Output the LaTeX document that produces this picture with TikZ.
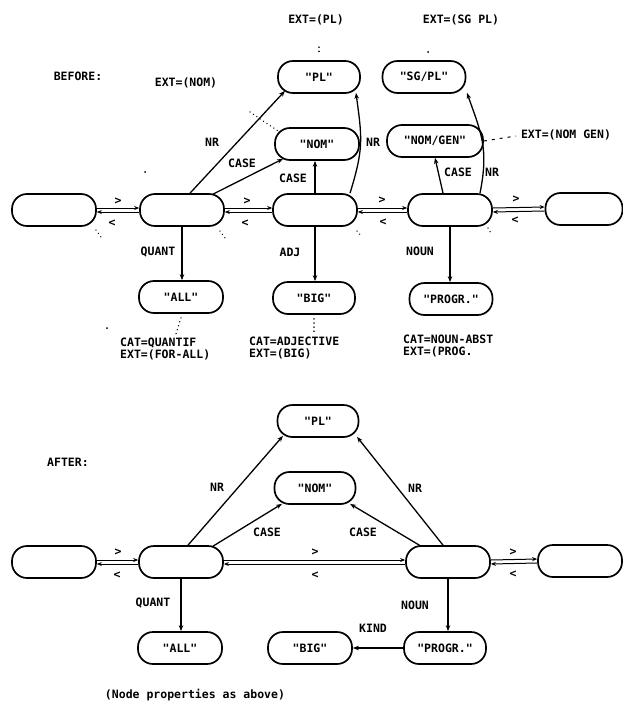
\documentclass[tikz,border=0pt]{standalone}
\usepackage{fontspec}
\newfontfamily\pf{DejaVu Sans Mono}
\usetikzlibrary{arrows.meta,calc}
\begin{document}
\begin{tikzpicture}[x=1pt,y=-1pt,
  nd/.style={draw, line width=1.7pt, rounded corners=15pt, minimum width=84pt, minimum height=32pt, inner sep=0pt, font=\pf\bfseries\fontsize{11.5}{12}\selectfont},
  lbl/.style={font=\pf\bfseries\fontsize{11.5}{12}\selectfont, inner sep=0pt},
  arr/.style={line width=1.3pt, -{Stealth[length=6pt,width=4.5pt]}},
  dl/.style={line width=1pt, -{Stealth[length=5pt,width=4pt]}},
  dotl/.style={line width=1.4pt, dash pattern=on 0.1pt off 4pt, line cap=round},
  dashl/.style={line width=1pt, dash pattern=on 3pt off 5pt}]
\useasboundingbox (0,0) rectangle (623,709);

% ---------------- BEFORE ----------------
\node[lbl] (before) at (78,76) {BEFORE:};
\node[lbl] (extnom) at (186,83) {EXT=(NOM)};
\node[lbl] (extpl) at (316,20) {EXT=(PL)};
\node[lbl] (extsgpl) at (461,20) {EXT=(SG PL)};
\node[lbl] (extnomgen) at (566,135) {EXT=(NOM GEN)};

\node[nd] (A) at (54,210) {};
\node[nd] (B) at (182,210) {};
\node[nd] (C) at (315,210) {};
\node[nd] (D) at (450,210) {};
\node[nd, minimum width=77pt] (E) at (584,209) {};

\node[nd, minimum width=82pt] (PL) at (319,77) {"PL"};
\node[nd, minimum width=83pt] (SGPL) at (424,77) {"SG/PL"};
\node[nd] (NOM) at (317,144) {"NOM"};
\node[nd, minimum width=96pt] (NOMGEN) at (435,141) {"NOM/GEN"};
\node[nd] (ALL) at (181,297) {"ALL"};
\node[nd, minimum width=82pt] (BIG) at (314,298) {"BIG"};
\node[nd, minimum width=83pt] (PROGR) at (451,299) {"PROGR."};

% row connectors
\draw[dl] ([yshift=2pt]A.east) -- ([yshift=2pt]B.west);
\draw[dl] ([yshift=-2pt]B.west) -- ([yshift=-2pt]A.east);
\draw[dl] ([yshift=2pt]B.east) -- ([yshift=2pt]C.west);
\draw[dl] ([yshift=-2pt]C.west) -- ([yshift=-2pt]B.east);
\draw[dl] ([yshift=2pt]C.east) -- ([yshift=2pt]D.west);
\draw[dl] ([yshift=-2pt]D.west) -- ([yshift=-2pt]C.east);
\draw[dl] ([yshift=2pt]D.east) -- ([yshift=2pt]E.west);
\draw[dl] ([yshift=-2pt]E.west) -- ([yshift=-2pt]D.east);
\node[lbl] (g1) at (118,201) {>};
\node[lbl] (l1) at (112,223) {<};
\node[lbl] (g2) at (247,201) {>};
\node[lbl] (l2) at (245,223) {<};
\node[lbl] (g3) at (382,200) {>};
\node[lbl] (l3) at (383,222) {<};
\node[lbl] (g4) at (516,199) {>};
\node[lbl] (l4) at (515,220) {<};

% upward edges
\draw[arr] ([xshift=8pt]B.north) -- ([xshift=-34pt,yshift=3pt]PL.south);
\draw[arr] ([xshift=31pt,yshift=-1pt]B.north) -- ([xshift=-34pt,yshift=2pt]NOM.south);
\draw[arr] (C.north) -- (C.north |- NOM.south);
\draw[arr] ([xshift=35pt]C.north) .. controls +(14pt,45pt) and +(6pt,-45pt) .. ([xshift=37pt,yshift=1pt]PL.south);
\draw[arr] ([xshift=-7pt]D.north) -- (NOMGEN.south);
\draw[arr] ([xshift=30pt]D.north) .. controls +(9pt,45pt) and +(14pt,-40pt) .. ([xshift=43pt,yshift=1pt]SGPL.south);
\node[lbl] (nr1) at (212,142) {NR};
\node[lbl] (case1) at (242,163) {CASE};
\node[lbl] (case2) at (293,178) {CASE};
\node[lbl] (nr2) at (373,142) {NR};
\node[lbl] (case3) at (458,172) {CASE};
\node[lbl] (nr3) at (492,172) {NR};

% downward edges
\draw[arr] (B.south) -- (B.south |- ALL.north);
\draw[arr] (C.south) -- (C.south |- BIG.north);
\draw[arr] (D.south) -- (D.south |- PROGR.north);
\node[lbl] (quant1) at (158,252) {QUANT};
\node[lbl] (adj) at (290,252) {ADJ};
\node[lbl] (noun1) at (420,251) {NOUN};

% properties
\node[lbl, anchor=west, align=left] (pall) at (120,349) {CAT=QUANTIF\\EXT=(FOR-ALL)};
\node[lbl, anchor=west, align=left] (pbig) at (249,348) {CAT=ADJECTIVE\\EXT=(BIG)};
\node[lbl, anchor=west, align=left] (pprogr) at (403,346) {CAT=NOUN-ABST\\EXT=(PROG.};

% dotted property links
\draw[dotl] ([yshift=13pt]PL.north) -- ([yshift=8pt]PL.north);
\fill (428,52) circle (1pt);
\draw[dotl] (250,112) -- (278,131);
\draw[dashl] (NOMGEN.east) -- (516,136);
\draw[dotl] (96,230) -- (101,237);
\draw[dotl] (220,231) -- (225,238);
\draw[dotl] (357,231) -- (362,237);
\draw[dotl] (488,228) -- (492,235);
\draw[dotl] ([yshift=-4pt]ALL.south) -- ([xshift=-5pt,yshift=-20pt]ALL.south);
\draw[dotl] ([yshift=-4pt]BIG.south) -- ([yshift=-18pt]BIG.south);
\fill (107,328) circle (1pt);
\fill (145,172) circle (1pt);

% ---------------- AFTER ----------------
\node[lbl] (after) at (68,462) {AFTER:};
\node[nd, minimum width=81pt] (PL2) at (318,421) {"PL"};
\node[nd, minimum width=81pt] (NOM2) at (315,488) {"NOM"};
\node[nd] (A2) at (54,562) {};
\node[nd] (B2) at (181,562) {};
\node[nd] (D2) at (448,562) {};
\node[nd] (E2) at (580,561) {};
\node[nd] (ALL2) at (180,648) {"ALL"};
\node[nd] (BIG2) at (310,648) {"BIG"};
\node[nd, minimum width=82pt] (PROGR2) at (445,648) {"PROGR."};

\draw[dl] ([yshift=2pt]A2.east) -- ([yshift=2pt]B2.west);
\draw[dl] ([yshift=-2pt]B2.west) -- ([yshift=-2pt]A2.east);
\draw[dl] ([yshift=2pt]B2.east) -- ([yshift=2pt]D2.west);
\draw[dl] ([yshift=-2pt]D2.west) -- ([yshift=-2pt]B2.east);
\draw[dl] ([yshift=2pt]D2.east) -- ([yshift=2pt]E2.west);
\draw[dl] ([yshift=-2pt]E2.west) -- ([yshift=-2pt]D2.east);
\node[lbl] (g5) at (118,552) {>};
\node[lbl] (l5) at (117,575) {<};
\node[lbl] (g6) at (315,552) {>};
\node[lbl] (l6) at (315,575) {<};
\node[lbl] (g7) at (513,552) {>};
\node[lbl] (l7) at (513,574) {<};

\draw[arr] ([xshift=7pt]B2.north) -- ([xshift=-35pt,yshift=2pt]PL2.south);
\draw[arr] ([xshift=32pt,yshift=-1pt]B2.north) -- ([xshift=-33pt,yshift=1pt]NOM2.south);
\draw[arr] ([xshift=-5pt]D2.north) -- ([xshift=39pt,yshift=1pt]PL2.south);
\draw[arr] ([xshift=-27pt,yshift=-1pt]D2.north) -- ([xshift=35pt,yshift=1pt]NOM2.south);
\node[lbl] (nr4) at (217,487) {NR};
\node[lbl] (case4) at (267,532) {CASE};
\node[lbl] (nr5) at (415,488) {NR};
\node[lbl] (case5) at (363,532) {CASE};

\draw[arr] (B2.south) -- (B2.south |- ALL2.north);
\draw[arr] (D2.south) -- (D2.south |- PROGR2.north);
\draw[arr] (PROGR2.west) -- (BIG2.east);
\node[lbl] (quant2) at (153,603) {QUANT};
\node[lbl] (noun2) at (415,605) {NOUN};
\node[lbl] (kind) at (373,628) {KIND};

\node[lbl] (note) at (195,695) {(Node properties as above)};
\end{tikzpicture}
\end{document}
